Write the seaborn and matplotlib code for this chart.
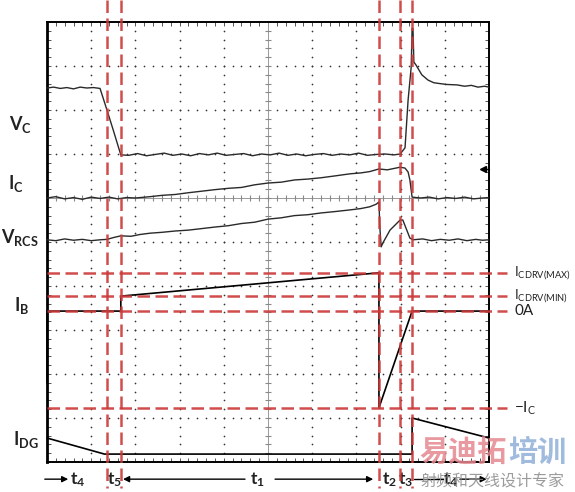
import numpy as np
import pandas as pd
import matplotlib
matplotlib.use("Agg")
import matplotlib.pyplot as plt
import seaborn as sns

# scope traces, in screen divisions (x 0..10, y 0..10)
vc_x = [0, 0.15, 0.3, 0.45, 0.6, 0.75, 0.9, 1.05, 1.2, 1.35, 1.5, 1.67,
        1.85, 2.05, 2.25, 2.45, 2.65, 2.85, 3.05, 3.25, 3.45, 3.65, 3.85, 4.05,
        4.25, 4.45, 4.65, 4.85, 5.05, 5.25, 5.45, 5.65, 5.85, 6.05, 6.25, 6.45,
        6.65, 6.85, 7.05, 7.25, 7.45, 7.65, 7.85, 7.99, 8.10, 8.17, 8.24, 8.26,
        8.28, 8.30, 8.35, 8.48, 8.62, 8.75, 8.89, 9.05, 9.28, 9.45, 9.6, 9.75, 9.9, 10]
vc_y = [8.50, 8.52, 8.49, 8.51, 8.48, 8.52, 8.50, 8.51, 8.49, 8.02, 7.54, 6.98,
        6.97, 7.01, 6.96, 6.99, 7.02, 6.97, 7.00, 6.96, 7.01, 6.98, 7.02, 6.97,
        6.99, 7.01, 6.96, 7.00, 6.98, 7.02, 6.97, 7.00, 6.96, 6.99, 7.01, 6.97,
        7.00, 6.98, 7.02, 6.97, 6.99, 7.00, 6.98, 7.00, 7.14, 8.23, 8.98, 9.85,
        9.85, 9.09, 9.02, 8.80, 8.68, 8.62, 8.60, 8.58, 8.57, 8.54, 8.56, 8.52, 8.54, 8.52]

ic_x = [0, 0.2, 0.4, 0.6, 0.8, 1.0, 1.2, 1.4, 1.6, 1.8, 2.0, 2.33,
        2.6, 2.9, 3.2, 3.46, 3.8, 4.1, 4.4, 4.7, 5.0, 5.3, 5.6, 5.9,
        6.2, 6.5, 6.86, 7.1, 7.3, 7.51, 7.7, 7.99, 8.10, 8.17, 8.21, 8.26,
        8.45, 8.65, 8.85, 9.05, 9.25, 9.45, 9.65, 9.85, 10]
ic_y = [6.00, 6.03, 5.98, 6.01, 5.97, 6.02, 5.99, 6.02, 5.98, 6.01, 6.00, 6.03,
        6.06, 6.08, 6.12, 6.15, 6.19, 6.22, 6.24, 6.30, 6.34, 6.36, 6.41, 6.43,
        6.46, 6.50, 6.55, 6.57, 6.60, 6.66, 6.64, 6.70, 6.68, 6.59, 6.41, 6.02,
        6.00, 6.02, 5.98, 6.01, 5.99, 6.02, 5.98, 6.00, 6.01]

vr_x = [0, 0.2, 0.4, 0.6, 0.8, 1.0, 1.2, 1.36, 1.5, 1.67, 1.9, 2.1,
        2.33, 2.6, 2.9, 3.2, 3.46, 3.8, 4.1, 4.4, 4.7, 5.0, 5.3, 5.6,
        5.9, 6.2, 6.5, 6.86, 7.1, 7.3, 7.45, 7.51, 7.53, 7.56, 7.60, 7.76,
        7.92, 7.99, 8.05, 8.14, 8.21, 8.28, 8.5, 8.7, 8.9, 9.1, 9.3, 9.5,
        9.7, 9.85, 10]
vr_y = [5.05, 5.03, 5.07, 5.04, 5.06, 5.03, 5.05, 5.06, 5.10, 5.14, 5.13, 5.17,
        5.20, 5.22, 5.25, 5.27, 5.30, 5.34, 5.37, 5.42, 5.45, 5.52, 5.55, 5.60,
        5.62, 5.66, 5.69, 5.73, 5.76, 5.80, 5.86, 5.91, 5.34, 4.89, 4.98, 5.27,
        5.43, 5.50, 5.50, 5.27, 5.09, 5.05, 5.07, 5.03, 5.06, 5.04, 5.07, 5.03,
        5.06, 5.04, 5.05]

# drawn (idealised) waveforms
ib_x = [0, 0, 1.67, 1.67, 7.51, 7.51, 8.26, 10]
ib_y = [1.8, 3.43, 3.43, 3.77, 4.30, 1.23, 3.43, 3.43]
idg_x = [0, 1.3, 8.26, 8.26, 10, 10]
idg_y = [0.545, 0.18, 0.18, 1.0, 0.545, 0.18]

# red reference markers
t_edges = [1.36, 1.67, 7.51, 7.99, 8.26]
levels = [4.30, 3.77, 3.43, 1.23]
level_labels = [r'$\mathrm{I_{CDRV(MAX)}}$', r'$\mathrm{I_{CDRV(MIN)}}$', '0A', r'$\mathrm{-I_C}$']
level_sizes = [9.5, 9.5, 11, 11]

sig_names = [r'$\mathbf{V_C}$', r'$\mathbf{I_C}$', r'$\mathbf{V_{RCS}}$', r'$\mathbf{I_B}$', r'$\mathbf{I_{DG}}$']
sig_pos = [(-0.59, 7.68), (-0.70, 6.34), (-0.61, 5.11), (-0.57, 3.55), (-0.48, 0.52)]

sns.set_theme(style="white")
plt.rcParams['font.family'] = ['Lato', 'DejaVu Sans']
plt.rcParams['mathtext.fontset'] = 'custom'
plt.rcParams['mathtext.rm'] = 'Lato'
plt.rcParams['mathtext.bf'] = 'Lato:bold'
plt.rcParams['mathtext.it'] = 'Lato:italic'

fig = plt.figure(figsize=(5.75, 4.92), dpi=100)
fig.patch.set_facecolor('white')
ax = fig.add_axes([47 / 575, 30 / 492, 442 / 575, 440 / 492])
ax.set_xlim(0, 10)
ax.set_ylim(0, 10)

# scope graticule
for s in ax.spines.values():
    s.set_color('black')
    s.set_linewidth(1.4)
ax.spines['left'].set_linewidth(2.0)
ax.set_xticks(np.arange(0, 10.01, 1))
ax.set_yticks(np.arange(0, 10.01, 1))
ax.set_xticks(np.arange(0, 10.01, 0.2), minor=True)
ax.set_yticks(np.arange(0, 10.01, 0.2), minor=True)
ax.tick_params(which='both', direction='in', top=True, right=True, bottom=True, left=True,
               labelbottom=False, labelleft=False, length=3, width=0.7, color='#555555')

dots = np.arange(0.2, 10, 0.2)
for g in range(1, 10):
    if g != 5:
        ax.scatter(np.full_like(dots, g), dots, s=1.5, color='#333333', lw=0, zorder=1)
    if g != 6:
        ax.scatter(dots, np.full_like(dots, g), s=1.5, color='#333333', lw=0, zorder=1)
ax.axvline(5, color='#999999', lw=0.7, zorder=1)
ax.axhline(6, color='#999999', lw=0.7, zorder=1)
ax.scatter(np.full_like(dots, 5), dots, marker='_', s=14, color='#888888', lw=0.8, zorder=1)
ax.scatter(dots, np.full_like(dots, 6), marker='|', s=14, color='#888888', lw=0.8, zorder=1)

traces = [(vc_x, vc_y), (ic_x, ic_y), (vr_x, vr_y)]
for tx, ty in traces:
    df = pd.DataFrame({'x': tx, 'y': ty})
    sns.lineplot(data=df, x='x', y='y', sort=False, estimator=None, color='#2a2a2a',
                 lw=1.0, ax=ax, zorder=4)
for tx, ty in [(ib_x, ib_y), (idg_x, idg_y)]:
    df = pd.DataFrame({'x': tx, 'y': ty})
    sns.lineplot(data=df, x='x', y='y', sort=False, estimator=None, color='black',
                 lw=1.2, ax=ax, zorder=4, clip_on=False)
ax.set_xlabel('')
ax.set_ylabel('')

# trigger/position marker on the right edge
ax.plot([9.86, 10], [6.66, 6.66], color='black', lw=1.0, marker='<', markersize=5,
        markevery=[0], clip_on=False, zorder=5)

red = '#cc3a3a'
for tx in t_edges:
    ax.plot([tx, tx], [10.5, -0.6], color=red, lw=1.8, dashes=(5, 2.2),
            clip_on=False, zorder=5, alpha=0.9)
for ly, lab, fs in zip(levels, level_labels, level_sizes):
    ax.plot([0, 10.4], [ly, ly], color=red, lw=1.8, dashes=(5, 2.2),
            clip_on=False, zorder=5, alpha=0.9)
    ax.text(10.57, ly, lab, ha='left', va='center', fontsize=fs, color='#222222')

for name, (px, py) in zip(sig_names, sig_pos):
    ax.text(px, py, name, ha='center', va='center', fontsize=13, color='#222222')

# timing annotations under the screen
yb = -0.39
arrow = dict(arrowstyle='-|>', color='black', lw=1.0, mutation_scale=9, shrinkA=0, shrinkB=0)
ax.annotate('', xy=(0.48, yb), xytext=(-0.05, yb), arrowprops=arrow, annotation_clip=False)
ax.annotate('', xy=(1.72, yb), xytext=(4.48, yb), arrowprops=arrow, annotation_clip=False)
ax.annotate('', xy=(7.38, yb), xytext=(5.16, yb), arrowprops=arrow, annotation_clip=False)
ax.plot([8.30, 8.96], [yb, yb], color='black', lw=1.0, clip_on=False)
ax.annotate('', xy=(9.95, yb), xytext=(9.34, yb), arrowprops=arrow, annotation_clip=False)
for tx, lab in [(0.70, r'$\mathbf{t_4}$'), (1.52, r'$\mathbf{t_5}$'), (4.77, r'$\mathbf{t_1}$'),
                (7.74, r'$\mathbf{t_2}$'), (8.12, r'$\mathbf{t_3}$'), (9.14, r'$\mathbf{t_4}$')]:
    ax.text(tx, yb - 0.02, lab, ha='center', va='center', fontsize=12.5, color='#222222')

# watermark
cjk = ['Noto Sans CJK SC', 'DejaVu Sans']
fig.text(419 / 575, 1 - 452 / 492, '易迪拓', family=cjk, fontsize=21, fontweight='bold',
         color='#e58890', alpha=0.85, ha='left', va='center')
fig.text(508 / 575, 1 - 452 / 492, '培训', family=cjk, fontsize=21, fontweight='bold',
         color='#8fb0d8', alpha=0.85, ha='left', va='center')
fig.text(420 / 575, 1 - 482 / 492, '射频和天线设计专家', family=cjk, fontsize=11.5,
         color='#8a8a8a', alpha=0.85, ha='left', va='center')

fig.savefig('out.png', dpi=100)
